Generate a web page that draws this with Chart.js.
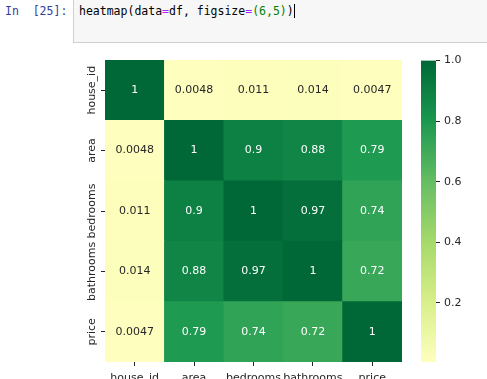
<!DOCTYPE html>
<html>
<head>
<meta charset="utf-8">
<script src="https://cdn.jsdelivr.net/npm/chart.js@4"></script>
<style>
  body { margin: 0; background: #fff; width: 487px; height: 379px; overflow: hidden; position: relative; }
  #prompt { position: absolute; left: 5px; top: 4px; font: 11.5px "DejaVu Sans Mono", monospace; color: #303f9f; white-space: pre; }
  #cell { position: absolute; left: 73px; top: -1px; width: 420px; height: 42px; background: #f7f7f7; border: 1px solid #cfcfcf; }
  #code { position: absolute; left: 5px; top: 4px; font: 11.5px "DejaVu Sans Mono", monospace; color: #000; white-space: pre; }
  .op { color: #aa22ff; }
  .num { color: #008000; }
  .cur { border-right: 1px solid #000; }
  #heat { position: absolute; left: 60px; top: 50px; }
  #cbar { position: absolute; left: 415px; top: 50px; }
</style>
</head>
<body>
<div id="prompt">In  [25]:</div>
<div id="cell"><div id="code">heatmap(data<span class="op">=</span>df, figsize<span class="op">=</span><span class="num">(6,5)</span><span class="cur">)</span></div></div>
<canvas id="heat" width="345" height="329"></canvas>
<canvas id="cbar" width="72" height="329"></canvas>
<script>

// --------------------------------------------------------------------------
//                              data
// --------------------------------------------------------------------------

const variables = ['house_id', 'area', 'bedrooms', 'bathrooms', 'price'];

const corrHouseId   = [1, 0.0048, 0.011, 0.014, 0.0047];
const corrArea      = [0.0048, 1, 0.9, 0.88, 0.79];
const corrBedrooms  = [0.011, 0.9, 1, 0.97, 0.74];
const corrBathrooms = [0.014, 0.88, 0.97, 1, 0.72];
const corrPrice     = [0.0047, 0.79, 0.74, 0.72, 1];

const matrixRows = [corrHouseId, corrArea, corrBedrooms, corrBathrooms, corrPrice];

const colorbarTicks = [0.2, 0.4, 0.6, 0.8, 1.0];
const vmin = 0.0047;
const vmax = 1;

// --------------------------------------------------------------------------
//                              colour map (upper half of RdYlGn, centre 0)
// --------------------------------------------------------------------------

const cmapStops = [
    [255, 255, 191],
    [217, 239, 139],
    [166, 217, 106],
    [102, 189, 99],
    [26, 152, 80],
    [0, 104, 55]
];

function cmap(t) {
    t = Math.max(0, Math.min(1, t));
    const pos = t * (cmapStops.length - 1);
    const i = Math.min(Math.floor(pos), cmapStops.length - 2);
    const f = pos - i;
    const a = cmapStops[i], b = cmapStops[i + 1];
    return a.map((c, k) => Math.round(c + (b[k] - c) * f));
}

function colorFor(v) {
    const [r, g, b] = cmap(v);
    return `rgb(${r}, ${g}, ${b})`;
}

function textColorFor(v) {
    const lin = cmap(v).map(c => {
        c = c / 255;
        return c <= 0.03928 ? c / 12.92 : Math.pow((c + 0.055) / 1.055, 2.4);
    });
    const lum = 0.2126 * lin[0] + 0.7152 * lin[1] + 0.0722 * lin[2];
    return lum > 0.408 ? '#262626' : '#ffffff';
}

const font = { family: 'DejaVu Sans', size: 11 };
const ink = '#262626';

// --------------------------------------------------------------------------
//                              heatmap
// --------------------------------------------------------------------------

// stacked bars: first dataset sits at the bottom, so the rows are reversed
const datasets = matrixRows.slice().reverse().map((row, i) => ({
    label: variables[variables.length - 1 - i],
    data: row.map(() => 1),
    values: row,
    backgroundColor: row.map(colorFor),
    borderWidth: 0,
    barPercentage: 1,
    categoryPercentage: 1
}));

const cellLabels = {
    id: 'cellLabels',
    afterDatasetsDraw(chart) {
        const ctx = chart.ctx;
        ctx.save();
        ctx.font = '11px "DejaVu Sans"';
        ctx.textAlign = 'center';
        ctx.textBaseline = 'middle';
        chart.data.datasets.forEach((ds, di) => {
            chart.getDatasetMeta(di).data.forEach((bar, j) => {
                const v = ds.values[j];
                ctx.fillStyle = textColorFor(v);
                ctx.fillText(String(v), bar.x, (bar.y + bar.base) / 2);
            });
        });
        ctx.restore();
    }
};

const rowLabels = {
    id: 'rowLabels',
    afterDraw(chart) {
        const ctx = chart.ctx;
        const yScale = chart.scales.y;
        ctx.save();
        ctx.font = '11px "DejaVu Sans"';
        ctx.fillStyle = ink;
        ctx.textAlign = 'center';
        ctx.textBaseline = 'middle';
        variables.forEach((name, i) => {
            const y = yScale.getPixelForValue(variables.length - 0.5 - i);
            ctx.save();
            ctx.translate(32, y);
            ctx.rotate(-Math.PI / 2);
            ctx.fillText(name, 0, 0);
            ctx.restore();
        });
        ctx.restore();
    }
};

new Chart(document.getElementById('heat').getContext('2d'), {
    type: 'bar',
    data: { labels: variables, datasets: datasets },
    options: {
        responsive: false,
        animation: false,
        layout: { padding: { top: 10, right: 3, left: 0, bottom: 0 } },
        plugins: { legend: { display: false }, tooltip: { enabled: false } },
        scales: {
            x: {
                type: 'category',
                stacked: true,
                border: { display: false },
                grid: { offset: false, drawOnChartArea: false, tickLength: 4, color: ink },
                ticks: { font: font, color: ink, padding: 6, autoSkip: false, maxRotation: 0 },
                afterFit: s => { s.height = 17; }
            },
            y: {
                type: 'linear',
                stacked: true,
                min: 0,
                max: variables.length,
                border: { display: false },
                grid: { drawOnChartArea: false, tickLength: 4, color: ink },
                ticks: { display: false },
                afterBuildTicks: s => { s.ticks = variables.map((_, i) => ({ value: i + 0.5 })); },
                afterFit: s => { s.width = 45; }
            }
        }
    },
    plugins: [cellLabels, rowLabels]
});

// --------------------------------------------------------------------------
//                              colour bar
// --------------------------------------------------------------------------

function colorbarGradient(context) {
    const { ctx, chartArea } = context.chart;
    if (!chartArea) return colorFor(vmax);
    const g = ctx.createLinearGradient(0, chartArea.bottom, 0, chartArea.top);
    for (let k = 0; k <= 20; k++) {
        const v = vmin + (vmax - vmin) * k / 20;
        g.addColorStop(k / 20, colorFor(v));
    }
    return g;
}

new Chart(document.getElementById('cbar').getContext('2d'), {
    type: 'bar',
    data: {
        labels: ['colorbar'],
        datasets: [{
            data: [[vmin, vmax]],
            backgroundColor: colorbarGradient,
            borderWidth: 0,
            barPercentage: 1,
            categoryPercentage: 1
        }]
    },
    options: {
        responsive: false,
        animation: false,
        layout: { padding: { top: 10, left: 6, bottom: 17, right: 0 } },
        plugins: { legend: { display: false }, tooltip: { enabled: false } },
        scales: {
            x: { display: false },
            y: {
                position: 'right',
                min: vmin,
                max: vmax,
                border: { display: false },
                grid: { drawOnChartArea: false, tickLength: 4, color: ink },
                ticks: { font: font, color: ink, padding: 4, callback: v => v.toFixed(1) },
                afterBuildTicks: s => { s.ticks = colorbarTicks.map(v => ({ value: v })); },
                afterFit: s => { s.width = 51; }
            }
        }
    }
});
</script>
</body>
</html>
